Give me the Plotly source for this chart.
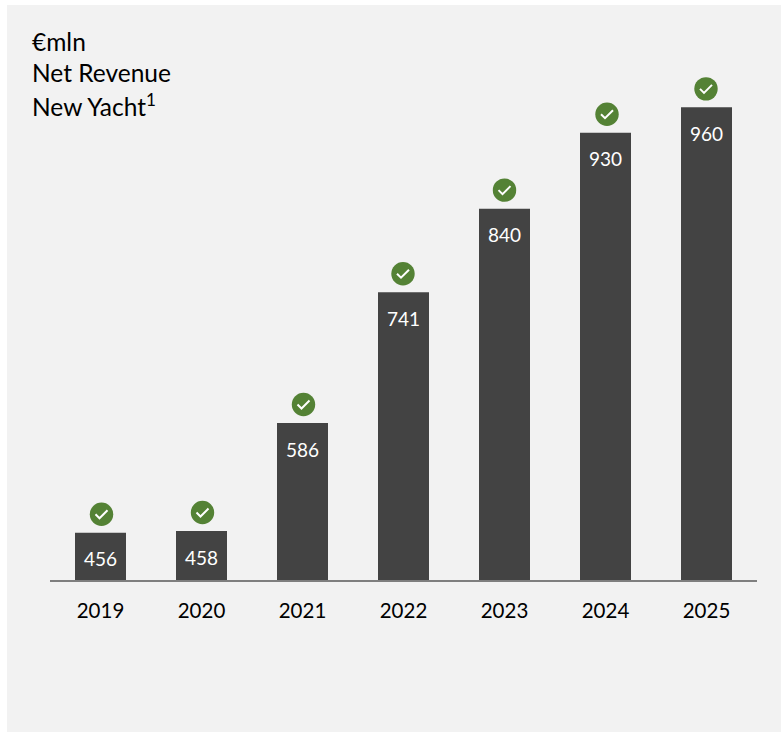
import plotly.graph_objects as go

# Net revenue of the new-yacht business, in millions of euro
years = ["2019", "2020", "2021", "2022", "2023", "2024", "2025"]
net_revenue = [456, 458, 586, 741, 840, 930, 960]
heading_lines = ["€mln", "Net Revenue", "New Yacht<sup>1</sup>"]

WIDTH, HEIGHT = 781, 732
LEFT, RIGHT, TOP, BOTTOM = 50, 24, 30, 152
BAR_COLOR = "#434343"
BADGE_COLOR = "#548235"
PANEL_COLOR = "#F2F2F2"
FONT = "Lato, Carlito, Calibri, sans-serif"

plot_h = HEIGHT - TOP - BOTTOM
plot_w = WIDTH - LEFT - RIGHT
PX_PER_UNIT = 0.844
y_base = 400
y_top = y_base + plot_h / PX_PER_UNIT

fig = go.Figure(
    go.Bar(
        x=years,
        y=net_revenue,
        width=0.505,
        marker=dict(color=BAR_COLOR, line=dict(width=0)),
        hoverinfo="x+y",
    )
)

# Panel behind everything
shapes = [
    dict(
        type="rect", layer="below", xref="paper", yref="paper",
        x0=(7 - LEFT) / plot_w, x1=(WIDTH + 5 - LEFT) / plot_w,
        y0=(HEIGHT - BOTTOM - (HEIGHT + 5)) / plot_h, y1=(HEIGHT - BOTTOM - 5) / plot_h,
        fillcolor=PANEL_COLOR, line=dict(width=0),
    )
]

# Green check badge floating above each bar, sized in pixels
R = 11.7
LIFT = 18.5
badge_nudge = [1, 1, 1, -0.5, 0, 1.5, -0.5]
for i, (value, dx) in enumerate(zip(net_revenue, badge_nudge)):
    shapes.append(dict(
        type="circle", layer="above", xref="x", yref="y",
        xsizemode="pixel", ysizemode="pixel", xanchor=i, yanchor=value,
        x0=dx - R, x1=dx + R, y0=LIFT - R, y1=LIFT + R,
        fillcolor=BADGE_COLOR, line=dict(width=0),
    ))
    shapes.append(dict(
        type="path", layer="above", xref="x", yref="y",
        xsizemode="pixel", ysizemode="pixel", xanchor=i, yanchor=value,
        path=f"M {dx - 6} {LIFT} L {dx - 2} {LIFT - 4} L {dx + 6} {LIFT + 4}",
        fillcolor="rgba(0,0,0,0)", line=dict(color="white", width=2),
    ))

annotations = [
    dict(
        text=line, xref="paper", yref="paper", xanchor="left", yanchor="middle",
        x=(32 - LEFT) / plot_w, y=(HEIGHT - BOTTOM - y_px) / plot_h,
        showarrow=False, font=dict(family=FONT, size=24.5, color="#000000"),
        xshift=-2,
    )
    for line, y_px in zip(heading_lines, [41, 73, 105])
]

# Value printed inside the top of each bar
annotations += [
    dict(
        text=str(value), x=i, y=value, xref="x", yref="y",
        xanchor="center", yanchor="middle", yshift=-26,
        showarrow=False, font=dict(family=FONT, size=19, color="white"),
    )
    for i, value in enumerate(net_revenue)
]

fig.update_layout(
    width=WIDTH,
    height=HEIGHT,
    margin=dict(l=LEFT, r=RIGHT, t=TOP, b=BOTTOM, pad=0),
    paper_bgcolor="white",
    plot_bgcolor="rgba(0,0,0,0)",
    showlegend=False,
    shapes=shapes,
    annotations=annotations,
    font=dict(family=FONT),
    xaxis=dict(
        type="category",
        range=[-0.5, 6.5],
        autorange=False,
        showgrid=False,
        showline=True,
        linecolor="#7F7F7F",
        linewidth=1.5,
        ticks="",
        ticklabelstandoff=12,
        tickfont=dict(family=FONT, size=20.5, color="#000000"),
    ),
    yaxis=dict(range=[y_base, y_top], autorange=False, visible=False,
               showgrid=False, zeroline=False),
)

fig.write_html("out.html")
